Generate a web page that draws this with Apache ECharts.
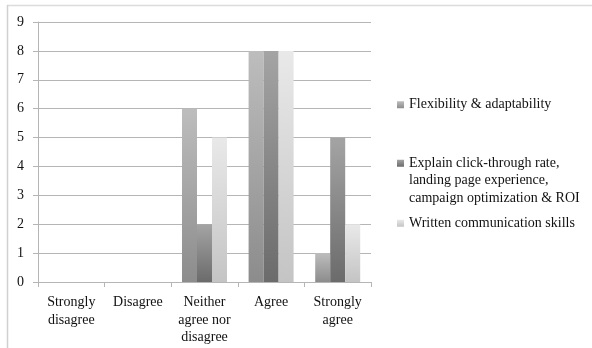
<!DOCTYPE html>
<html>
<head>
<meta charset="utf-8">
<script src="https://cdn.jsdelivr.net/npm/echarts@6/dist/echarts.min.js"></script>
<style>
  html, body { margin: 0; padding: 0; background: #fff; }
  #chart { width: 592px; height: 348px; }
</style>
</head>
<body>
<div id="chart"></div>
<script>
// Survey responses per agreement level
const categories = ['Strongly\ndisagree', 'Disagree', 'Neither\nagree nor\ndisagree', 'Agree', 'Strongly\nagree'];
const flexibility = [0, 0, 6, 8, 1];
const explainMetrics = [0, 0, 2, 8, 5];
const writtenComm = [0, 0, 5, 8, 2];
const yTicks = [0, 9, 1]; // min, max, interval

const seriesNames = [
  'Flexibility & adaptability',
  'Explain click-through rate, landing page experience, campaign optimization & ROI',
  'Written communication skills'
];
// Two leading blank lines keep the marker level with the first line of the wrapped entry
const legendText = {
  [seriesNames[0]]: 'Flexibility & adaptability',
  [seriesNames[1]]: '\n\nExplain click-through rate,\nlanding page experience,\ncampaign optimization & ROI',
  [seriesNames[2]]: 'Written communication skills'
};

const FONT = "'Liberation Serif', 'DejaVu Serif', serif";
const TEXT = '#111';

function grad(top, bottom) {
  return new echarts.graphic.LinearGradient(0, 0, 0, 1, [
    { offset: 0, color: top },
    { offset: 1, color: bottom }
  ]);
}

function bar(name, data, top, bottom) {
  return {
    name: name,
    type: 'bar',
    data: data,
    barWidth: 15,
    barGap: '0%',
    itemStyle: { color: grad(top, bottom) },
    emphasis: { disabled: true }
  };
}

function legendAt(name, top) {
  return {
    data: [name],
    left: 397,
    top: top,
    padding: 0,
    itemWidth: 7,
    itemHeight: 7,
    itemGap: 0,
    icon: 'rect',
    selectedMode: false,
    formatter: n => legendText[n],
    textStyle: { fontFamily: FONT, fontSize: 14, color: TEXT, lineHeight: 17.5 }
  };
}

const chart = echarts.init(document.getElementById('chart'), null, { renderer: 'canvas' });
chart.setOption({
  animation: false,
  backgroundColor: '#fff',
  grid: { left: 38, right: 221, top: 22, bottom: 66 },
  graphic: [
    { type: 'line', shape: { x1: 7, y1: 5.5, x2: 592, y2: 5.5 }, style: { stroke: '#dcdcdc', lineWidth: 1.5 } },
    { type: 'line', shape: { x1: 7.5, y1: 5, x2: 7.5, y2: 348 }, style: { stroke: '#d0d0d0', lineWidth: 1.5 } }
  ],
  legend: [
    legendAt(seriesNames[0], 96),
    legendAt(seriesNames[1], 119.5),
    legendAt(seriesNames[2], 214.5)
  ],
  xAxis: {
    type: 'category',
    data: categories,
    axisLine: { lineStyle: { color: '#b5b5b5', width: 1 } },
    axisTick: { show: true, length: 5, lineStyle: { color: '#b5b5b5' } },
    axisLabel: {
      interval: 0, margin: 12, fontFamily: FONT, fontSize: 14,
      color: TEXT, lineHeight: 17.5, align: 'center'
    }
  },
  yAxis: {
    type: 'value',
    min: yTicks[0],
    max: yTicks[1],
    interval: yTicks[2],
    axisLine: { show: true, lineStyle: { color: '#b5b5b5', width: 1 } },
    axisTick: { show: true, length: 5, lineStyle: { color: '#b5b5b5' } },
    splitLine: { show: true, lineStyle: { color: '#b5b5b5', width: 1 } },
    axisLabel: { margin: 14, fontFamily: FONT, fontSize: 14, color: TEXT }
  },
  series: [
    bar(seriesNames[0], flexibility, '#bdbdbd', '#8c8c8c'),
    bar(seriesNames[1], explainMetrics, '#a4a4a4', '#6b6b6b'),
    bar(seriesNames[2], writtenComm, '#e9e9e9', '#c4c4c4')
  ]
});
</script>
</body>
</html>
